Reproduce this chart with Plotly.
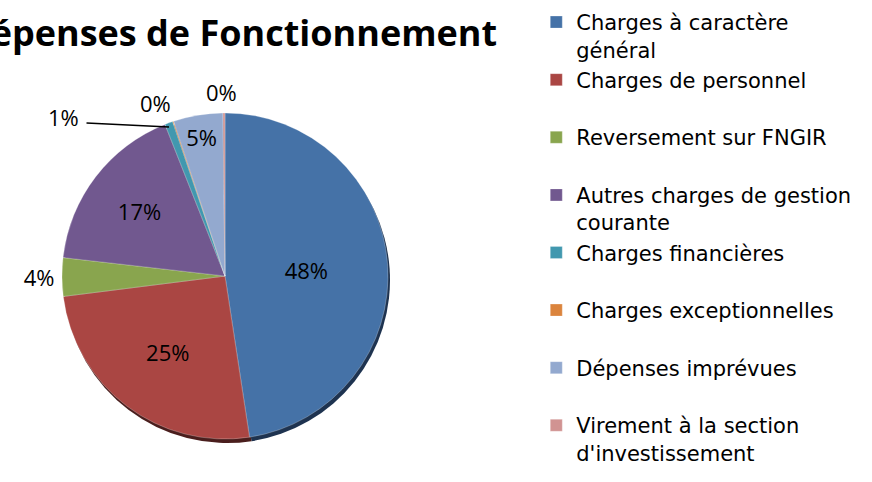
import plotly.graph_objects as go

categories = [
    "Charges à caractère<br>général",
    "Charges de personnel<br> ",
    "Reversement sur FNGIR<br> ",
    "Autres charges de gestion<br>courante",
    "Charges financières<br> ",
    "Charges exceptionnelles<br> ",
    "Dépenses imprévues<br> ",
    "Virement à la section<br>d'investissement",
]
values = [47.6, 25.4, 3.8, 17.2, 0.8, 0.1, 4.9, 0.2]
colors = ["#4572A7", "#AA4643", "#89A54E", "#71588F", "#4198AF", "#DB843D", "#93A9CF", "#D19392"]
shadow_colors = ["#1E3350", "#4A1E1D", "#3C4822", "#31263F", "#1C424D", "#603A1B", "#404A5B", "#5C4040"]
text_pos = ["inside", "inside", "outside", "inside", "none", "none", "inside", "none"]
title_text = "Dépenses de Fonctionnement"

W, H = 872, 482
cx, cy, r = 225, 276, 163
FONT = "Open Sans"
LEG_FONT = "DejaVu Sans"

total = sum(values)
pct = [f"{round(v / total * 100)}%" for v in values]

def dom(dx=0, dy=0):
    return dict(x=[(cx - r + dx) / W, (cx + r + dx) / W],
                y=[(H - cy - r - dy) / H, (H - cy + r - dy) / H])

fig = go.Figure()
fig.add_trace(go.Pie(
    labels=categories, values=values, sort=False, direction="clockwise", rotation=0,
    marker=dict(colors=shadow_colors, line=dict(width=0)),
    textinfo="none", showlegend=False, hoverinfo="skip", domain=dom(2, 4),
))
fig.add_trace(go.Pie(
    labels=categories, values=values, sort=False, direction="clockwise", rotation=0,
    marker=dict(colors=colors, line=dict(color="rgba(255,255,255,0.5)", width=0.5)),
    texttemplate="%{percent:.0%}", textposition=text_pos,
    insidetextorientation="horizontal",
    textfont=dict(family=FONT, size=22, color="black"),
    outsidetextfont=dict(family=FONT, size=22, color="black"),
    domain=dom(),
))

def px(x, y):
    return x / W, 1 - y / H

annos = []
tx, ty = px(230.5, 33)
annos.append(dict(text="<b>" + title_text + "</b>", xref="paper", yref="paper",
                  x=tx, y=ty, xanchor="center", yanchor="middle",
                  showarrow=False, font=dict(family=FONT, size=36, color="black")))
# leader line for the 1% slice
lx_, ly_ = px(169, 127)
annos.append(dict(text="", xref="paper", yref="paper", x=lx_, y=ly_,
                  ax=-84, ay=-4, axref="pixel", ayref="pixel",
                  showarrow=True, arrowhead=0, arrowwidth=1.5, arrowcolor="black",
                  standoff=0, startstandoff=0))
# small-slice outside labels (1%, 0%, 0%)
for idx, (lx, ly) in zip([4, 5, 7], [(63, 117), (155, 103), (221, 92)]):
    x_, y_ = px(lx, ly)
    annos.append(dict(text=pct[idx], xref="paper", yref="paper", x=x_, y=y_,
                      xanchor="center", yanchor="middle", showarrow=False,
                      font=dict(family=FONT, size=22, color="black")))

fig.update_layout(
    width=W, height=H,
    margin=dict(l=0, r=0, t=0, b=0, autoexpand=False),
    paper_bgcolor="white",
    showlegend=True,
    legend=dict(x=0.615, y=0.996, xanchor="left", yanchor="top",
                font=dict(family=LEG_FONT, size=21, color="black"),
                valign="top", traceorder="normal"),
    annotations=annos,
)
fig.write_html("out.html", config={"displayModeBar": False},
               post_script="document.body.style.margin='0px';")
